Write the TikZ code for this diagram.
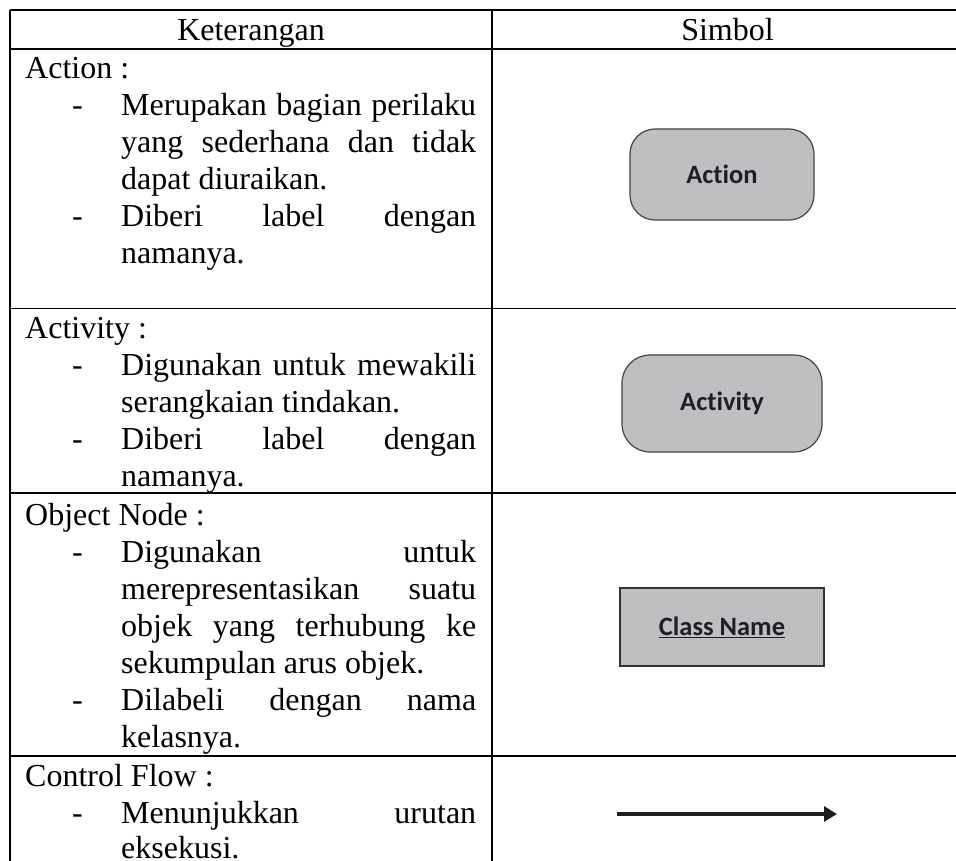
\documentclass[tikz,border=0pt]{standalone}
\usepackage{fontspec}
\setmainfont{Liberation Serif}
\newfontfamily\symfont{Carlito}[Ligatures=NoCommon]
\usetikzlibrary{arrows.meta}
\definecolor{symfill}{HTML}{BEBFC1}
\definecolor{symline}{HTML}{444444}
\definecolor{symtext}{HTML}{1E1E28}
\tikzset{
  txt/.style={anchor=base west, inner sep=0pt, font=\fontsize{32}{37}\selectfont},
  hdr/.style={anchor=base, inner sep=0pt, font=\fontsize{32}{37}\selectfont},
  grid/.style={line width=1.8pt, black},
  rbox/.style={draw=symline, line width=1.2pt, fill=symfill, inner sep=0pt,
    font=\symfont\bfseries\fontsize{26.5}{30}\selectfont, text=symtext},
  obox/.style={draw=black!80, line width=2.4pt, fill=symfill, inner sep=0pt,
    font=\symfont\bfseries\fontsize{26.5}{30}\selectfont, text=symtext},
  flow/.style={line width=3.2pt, black!88, -{Triangle[length=13pt,width=15pt]}}
}
\newcommand{\jline}[1]{\makebox[355pt][s]{#1}}
\begin{document}
\begin{tikzpicture}[x=1pt,y=-1pt]
\useasboundingbox (0,0) rectangle (956,861);
\begin{scope}
\clip (0,0) rectangle (956,861);
% grid
\draw[grid] (10,10) -- (970,10);
\draw[grid] (10,49) -- (970,49);
\draw[grid] (10,308.5) -- (970,308.5);
\draw[grid] (10,493) -- (970,493);
\draw[grid] (10,756) -- (970,756);
\draw[grid] (10,10) -- (10,880);
\draw[grid] (492,10) -- (492,880);
\end{scope}
% header
\node[hdr] (hk) at (251,41) {Keterangan};
\node[hdr] (hs) at (727.5,41) {Simbol};
% row 1
\node[txt] (a0) at (25,79) {Action :};
\node[txt] (a1d) at (72,116) {-};
\node[txt] (a1) at (121,116) {\jline{Merupakan bagian perilaku}};
\node[txt] (a2) at (121,153) {\jline{yang sederhana dan tidak}};
\node[txt] (a3) at (121,190) {dapat diuraikan.};
\node[txt] (a4d) at (72,227) {-};
\node[txt] (a4) at (121,227) {\jline{Diberi label dengan}};
\node[txt] (a5) at (121,264) {namanya.};
% row 2
\node[txt] (b0) at (25,338) {Activity :};
\node[txt] (b1d) at (72,375) {-};
\node[txt] (b1) at (121,375) {\jline{Digunakan untuk mewakili}};
\node[txt] (b2) at (121,412) {serangkaian tindakan.};
\node[txt] (b3d) at (72,449) {-};
\node[txt] (b3) at (121,449) {\jline{Diberi label dengan}};
\node[txt] (b4) at (121,486) {namanya.};
% row 3
\node[txt] (c0) at (25,525) {Object Node :};
\node[txt] (c1d) at (72,562) {-};
\node[txt] (c1) at (121,562) {\jline{Digunakan untuk}};
\node[txt] (c2) at (121,599) {\jline{merepresentasikan suatu}};
\node[txt] (c3) at (121,636) {\jline{objek yang terhubung ke}};
\node[txt] (c4) at (121,673) {sekumpulan arus objek.};
\node[txt] (c5d) at (72,710) {-};
\node[txt] (c5) at (121,710) {\jline{Dilabeli dengan nama}};
\node[txt] (c6) at (121,747) {kelasnya.};
% row 4
\node[txt] (d0) at (25,786) {Control Flow :};
\node[txt] (d1d) at (72,823) {-};
\node[txt] (d1) at (121,823) {\jline{Menunjukkan urutan}};
\node[txt] (d2) at (121,858) {eksekusi.};
% symbols
\node[rbox, minimum width=184pt, minimum height=91pt, rounded corners=25pt] (act) at (722,174.5) {Action};
\node[rbox, minimum width=200pt, minimum height=97pt, rounded corners=28pt] (actv) at (722,403.5) {Activity};
\node[obox, minimum width=204pt, minimum height=78pt] (obj) at (722,627) {\underline{Class Name}};
\coordinate (cfA) at (617,814);
\coordinate (cfB) at (837,814);
\draw[flow] (cfA) -- (cfB);
\end{tikzpicture}
\end{document}
